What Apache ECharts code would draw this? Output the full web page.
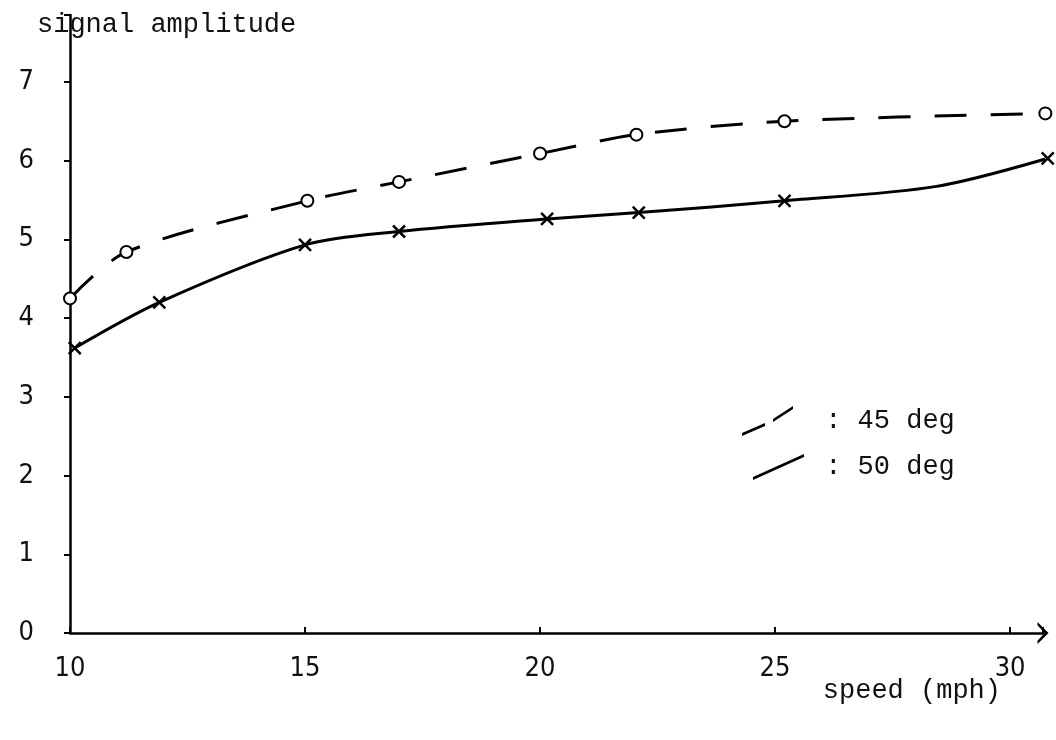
<!DOCTYPE html>
<html>
<head>
<meta charset="utf-8">
<script src="https://cdn.jsdelivr.net/npm/echarts@6/dist/echarts.min.js"></script>
<style>
  html, body { margin: 0; padding: 0; background: #fff; }
  #main { width: 1056px; height: 740px; }
</style>
</head>
<body>
<div id="main"></div>
<script>
// speed (mph) and signal amplitude
const speed45 = [10, 11.2, 15.05, 17, 20, 22.05, 25.2, 30.75];
const amp45 = [4.25, 4.84, 5.49, 5.73, 6.09, 6.33, 6.5, 6.6];
const speed50 = [10.1, 11.9, 15, 17, 20.15, 22.1, 25.2, 28.4, 30.8];
const amp50 = [3.62, 4.2, 4.93, 5.1, 5.26, 5.34, 5.49, 5.67, 6.03];
const marked50 = [true, true, true, true, true, true, true, false, true];
const seriesNames = ["45 deg", "50 deg"];

const monoFont = '"Liberation Mono", "DejaVu Sans Mono", monospace';
const digitFont = '"Liberation Sans Narrow", "DejaVu Sans Condensed", sans-serif';
const crossPath = "path://M0,0 L10,10 M10,0 L0,10";
// hand drawn legend strokes, both in a 62x30 frame
const dashIcon =
  "path://M0,27 L23,17 L23,20 L0,30 Z M31,13 L51,0 L51,3 L31,16 Z M61.95,15 L62,15 L62,15.05 Z";
const solidIcon =
  "path://M11,25 L62,2 L62,5 L11,28 Z M0,15 L0.05,15 L0,15.05 Z M30,0 L30.05,0 L30,0.05 Z M30,30 L30.05,30 L30,29.95 Z";
// open chevron for the end of the speed axis
const chevron = "path://M0,10 L10,0 L20,10 L17,10 L10,3.5 L3,10 Z";

var myChart = echarts.init(document.getElementById("main"));

const option = {
  backgroundColor: "#fff",
  animation: false,
  grid: {
    left: 70,
    right: 13,
    top: 15,
    bottom: 107,
    containLabel: false,
    outerBoundsMode: "none",
  },
  legend: {
    orient: "vertical",
    left: 737,
    top: 401,
    itemWidth: 62,
    itemHeight: 30,
    itemGap: 16,
    data: [
      { name: seriesNames[0], icon: dashIcon },
      { name: seriesNames[1], icon: solidIcon },
    ],
    formatter: (name) => " : " + name,
    textStyle: { fontFamily: monoFont, fontSize: 27, color: "#111" },
    itemStyle: { color: "#000", borderWidth: 0 },
    lineStyle: { width: 0 },
  },
  xAxis: {
    type: "value",
    min: 10,
    max: 30.7,
    interval: 5,
    name: "speed (mph)",
    nameLocation: "end",
    nameGap: -42,
    nameMoveOverlap: false,
    nameTextStyle: {
      fontFamily: monoFont,
      fontSize: 27,
      color: "#111",
      align: "right",
      verticalAlign: "top",
      padding: [44, 0, 0, 0],
    },
    axisLine: {
      lineStyle: { color: "#000", width: 2.5 },
      symbol: ["none", chevron],
      symbolSize: [22, 12],
    },
    axisTick: { inside: true, length: 6, lineStyle: { color: "#000", width: 2 } },
    axisLabel: {
      margin: 22,
      fontFamily: digitFont,
      fontSize: 27,
      color: "#111",
      formatter: (v) => (v % 5 === 0 ? String(v) : ""),
    },
    splitLine: { show: false },
  },
  yAxis: {
    type: "value",
    min: 0,
    max: 7.85,
    interval: 1,
    name: "signal amplitude",
    nameLocation: "end",
    nameGap: -10,
    nameMoveOverlap: false,
    nameTextStyle: {
      fontFamily: monoFont,
      fontSize: 27,
      color: "#111",
      align: "left",
      verticalAlign: "middle",
      padding: [0, 0, 0, -33],
    },
    axisLine: { show: true, lineStyle: { color: "#000", width: 2.5 } },
    axisTick: { show: true, length: 6, lineStyle: { color: "#000", width: 2 } },
    axisLabel: {
      margin: 36,
      fontFamily: digitFont,
      fontSize: 27,
      color: "#111",
      formatter: (v) => (Number.isInteger(v) ? String(v) : ""),
    },
    splitLine: { show: false },
  },
  series: [
    {
      name: seriesNames[0],
      type: "line",
      smooth: 0.3,
      clip: false,
      symbol: "emptyCircle",
      symbolSize: 12,
      itemStyle: { color: "#000", borderColor: "#000", borderWidth: 2.5 },
      lineStyle: { color: "#000", width: 3, type: [32, 24] },
      data: speed45.map((x, i) => [x, amp45[i]]),
    },
    {
      name: seriesNames[1],
      type: "line",
      smooth: 0.3,
      clip: false,
      symbol: crossPath,
      symbolSize: 12,
      itemStyle: { color: "#000", borderColor: "#000", borderWidth: 2.5 },
      lineStyle: { color: "#000", width: 3 },
      data: speed50.map((x, i) =>
        marked50[i] ? [x, amp50[i]] : { value: [x, amp50[i]], symbol: "none" }
      ),
    },
  ],
};

myChart.setOption(option);
</script>
</body>
</html>
